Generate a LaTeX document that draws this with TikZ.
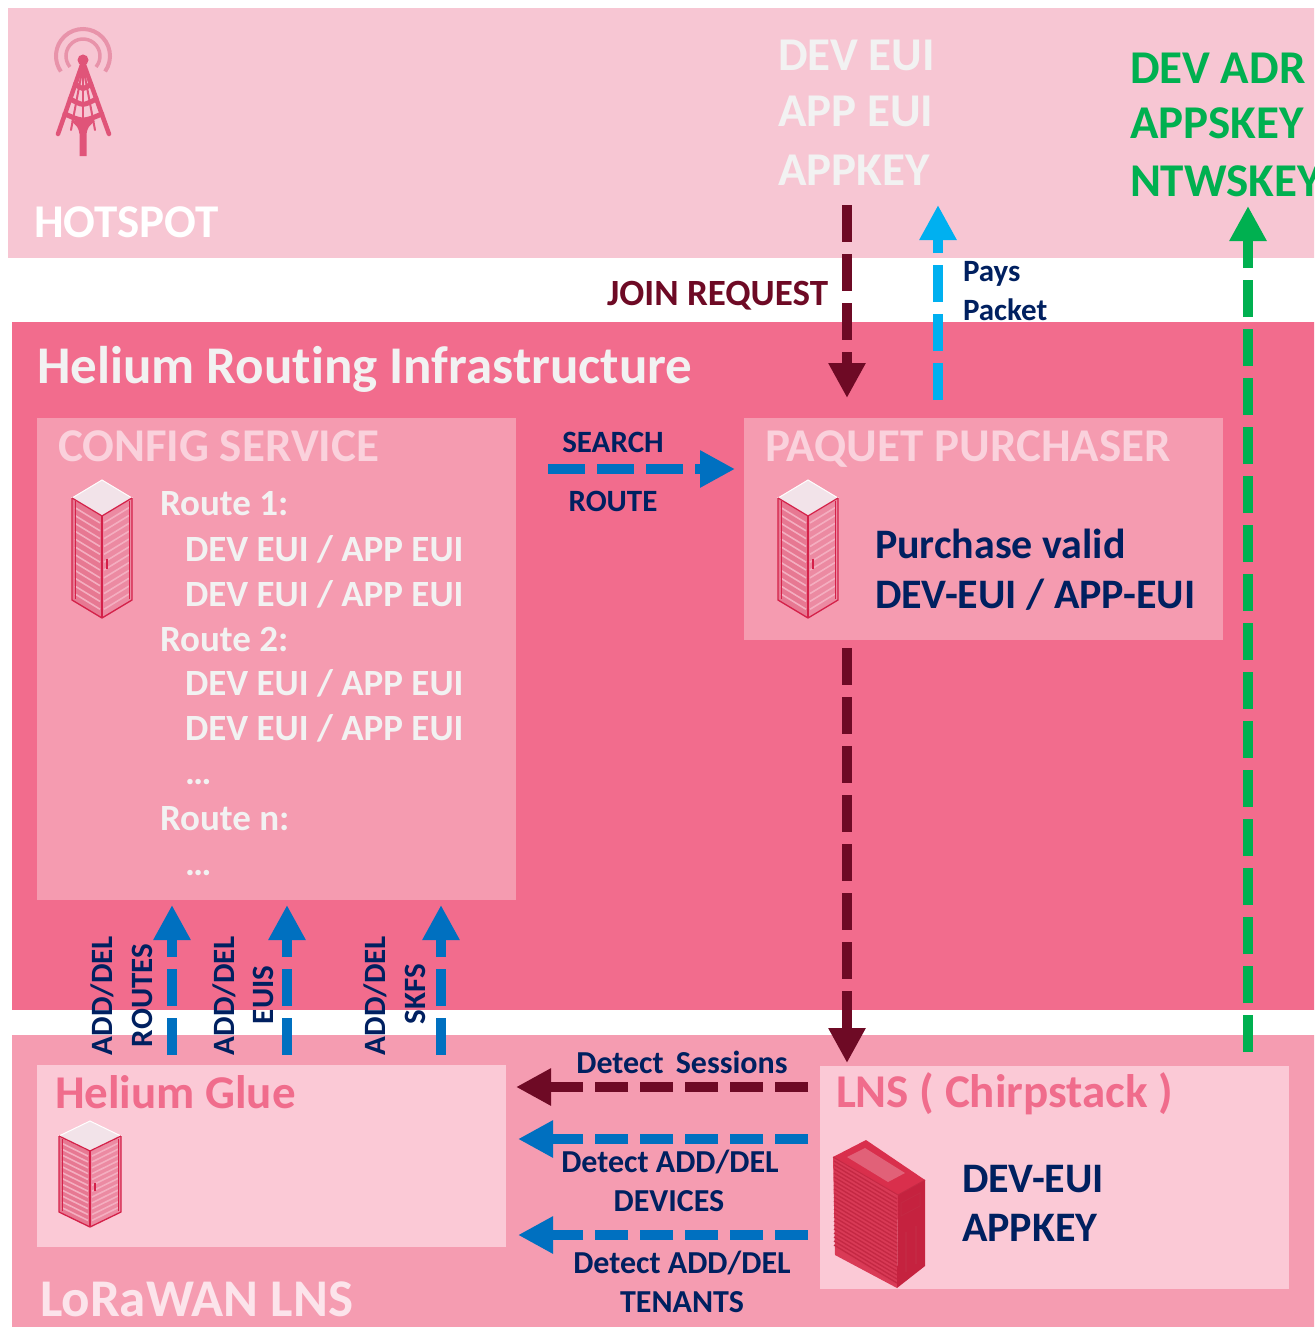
\documentclass[tikz,border=0pt]{standalone}
\usepackage{fontspec}
\setmainfont{Carlito}[Ligatures=NoCommon]
\usetikzlibrary{arrows.meta,calc}

\definecolor{hotbg}{HTML}{F7C6D3}
\definecolor{routebg}{HTML}{F26C8D}
\definecolor{lnsbg}{HTML}{F59CB1}
\definecolor{midbox}{HTML}{F59BB0}
\definecolor{lightbox}{HTML}{FBC9D6}
\definecolor{softwhite}{HTML}{F2F2F2}
\definecolor{titlepink}{HTML}{FAD1DC}
\definecolor{deeppink}{HTML}{F06C8C}
\definecolor{navy}{HTML}{002060}
\definecolor{maroon}{HTML}{6E0A25}
\definecolor{flowblue}{HTML}{0070C0}
\definecolor{skyblue}{HTML}{00B0F0}
\definecolor{keygreen}{HTML}{00B050}
\definecolor{towercol}{HTML}{E05479}
\definecolor{ringcol}{HTML}{E893AA}
\definecolor{rackedge}{HTML}{D42149}
\definecolor{rackleft}{HTML}{E77892}
\definecolor{rackright}{HTML}{EC8AA2}
\definecolor{racktop}{HTML}{F2E3E9}
\definecolor{rackslat}{HTML}{F4AEC0}
\definecolor{srvtop}{HTML}{D92F4C}
\definecolor{srvleft}{HTML}{D93A56}
\definecolor{srvright}{HTML}{C5223F}
\definecolor{srvline}{HTML}{C42843}
\definecolor{lnswhite}{HTML}{FCE4EB}

% isometric rack cabinet: top corner x, y, half width, top dip, height
\newcommand\rackicon[5]{%
\begin{scope}[shift={(#1,#2)}]
  \fill[rackleft] ({-#3},{#4}) -- (0,{2*#4}) -- (0,{2*#4+#5}) -- ({-#3},{#4+#5}) -- cycle;
  \fill[rackright] (0,{2*#4}) -- ({#3},{#4}) -- ({#3},{#4+#5}) -- (0,{2*#4+#5}) -- cycle;
  \foreach \k in {1,...,12}{
    \draw[rackslat,line width=1.6pt] ({-#3+3},{#4+\k*#5/13+0.1*#4}) -- (-2,{2*#4+\k*#5/13-0.05*#4});
    \draw[rackslat,line width=1.6pt] (2,{2*#4+\k*#5/13-0.05*#4}) -- ({#3-3},{#4+\k*#5/13+0.1*#4});
  }
  \fill[racktop,draw=white,line width=1pt] (0,0) -- ({-#3},{#4}) -- (0,{2*#4}) -- ({#3},{#4}) -- cycle;
  \draw[rackedge,line width=1.3pt,line join=round]
    ({-#3},{#4}) -- ({-#3},{#4+#5}) -- (0,{2*#4+#5}) -- ({#3},{#4+#5}) -- ({#3},{#4});
  \draw[rackedge,line width=1.3pt] ({-#3},{#4}) -- (0,{2*#4}) -- ({#3},{#4});
  \draw[rackedge,line width=2.6pt] (0,{2*#4}) -- (0,{2*#4+#5});
  \draw[rackedge,line width=0.8pt] ({-#3+3},{#4+3}) -- ({-#3+3},{#4+#5-1});
  \draw[rackedge,line width=0.8pt] ({#3-3},{#4+3}) -- ({#3-3},{#4+#5-1});
  \draw[rackedge,line width=1.6pt] (5,{2*#4+0.42*#5}) -- (5,{2*#4+0.52*#5});
\end{scope}}

\tikzset{
  band/.style={inner sep=0pt,outer sep=0pt,draw=none,anchor=north west},
  txt/.style={inner sep=0pt,outer sep=0pt,anchor=base west,font=\bfseries\fontsize{#1}{#1}\selectfont},
  flow/.style={line width=10.5pt,dash pattern=on 37pt off 12pt,
    -{Triangle[width=35pt,length=35pt]}},
}

\begin{document}
\begin{tikzpicture}[x=1pt,y=-1pt]
\clip (0,0) rectangle (1314,1327);
\fill[white] (0,0) rectangle (1314,1327);

% ---------- layers ----------
\node[band,fill=hotbg,minimum width=1310pt,minimum height=250pt] (hotspot) at (8,8) {};
\node[band,fill=routebg,minimum width=1306pt,minimum height=688pt] (routing) at (12,322) {};
\node[band,fill=lnsbg,minimum width=1306pt,minimum height=296pt] (lorawan) at (12,1035) {};

% ---------- boxes ----------
\node[band,fill=midbox,minimum width=479pt,minimum height=482pt] (cfg) at (37,418) {};
\node[band,fill=midbox,minimum width=479pt,minimum height=222pt] (pp) at (744,418) {};
\node[band,fill=lightbox,minimum width=469pt,minimum height=182pt] (glue) at (37,1065) {};
\node[band,fill=lightbox,minimum width=469pt,minimum height=223pt] (lns) at (820,1066) {};

% ---------- hotspot tower ----------
\begin{scope}[shift={(83,56)},yscale=-1]
  \draw[ringcol,line width=4pt] (-35:27) arc[start angle=-35,end angle=215,radius=27];
  \draw[ringcol,line width=3.5pt] (-40:17) arc[start angle=-40,end angle=220,radius=17];
\end{scope}
\begin{scope}[towercol,line cap=round,line join=round]
  \draw[line width=4.5pt] (58,134) -- (83,62) -- (109,134);
  \draw[line width=2pt] (71,130) -- (83,66) -- (95,130);
  \draw[line width=2.5pt] (83,62) -- (83,122);
  \draw[line width=5pt] (75.4,84) .. controls (83,90) .. (90.8,84);
  \draw[line width=5pt] (70.2,99) .. controls (83,106) .. (96.2,99);
  \draw[line width=5pt] (65,114) .. controls (83,122) .. (101.8,114);
  \fill (71,121) .. controls (78,127) .. (79.5,134) -- (79.5,156) -- (86.5,156) -- (86.5,134)
        .. controls (88,127) .. (95,121) -- cycle;
  \fill (83,60) circle (5.5);
\end{scope}

% ---------- rack icons ----------
\rackicon{102}{480}{30}{18}{102}
\rackicon{808}{480}{30}{18}{102}
\rackicon{90}{1121}{31}{15}{76}

% ---------- LNS server ----------
\coordinate (sb) at (866,1140);
\coordinate (sl) at (833,1157);
\coordinate (sf) at (898,1195);
\coordinate (sr) at (925,1180);
\coordinate (slb) at (835,1255);
\coordinate (sfb) at (897,1288);
\coordinate (srb) at (925,1266);
\fill[srvleft] (sl) -- (sf) -- (sfb) -- (slb) -- cycle;
\foreach \t in {4,8,...,88}{
  \draw[srvline,line width=1.4pt] ($(sl)+(1,\t)$) -- ($(sf)+(-1,\t)$);
}
\fill[srvright] (sf) -- (sr) -- (srb) -- (sfb) -- cycle;
\fill[srvtop] (sb) -- (sl) -- (sf) -- (sr) -- cycle;
\fill[srvleft!80!white] (865,1148) -- (847,1157) -- (888,1182) -- (905,1173) -- cycle;
\draw[srvline,line width=1pt] (sl) -- (sf) -- (sr);
\draw[srvline,line width=1pt] (901,1203) -- (920,1193) -- (920,1206) -- (901,1216) -- cycle;
\draw[srvline,line width=2pt] (906,1232) -- (906,1272);
\draw[srvline,line width=2pt] (916,1226) -- (916,1264);

% ---------- texts: hotspot ----------
\node[txt=47,white] (t-hot) at (34,237) {HOTSPOT};
\node[txt=47,softwhite] (k-dev) at (778,71) {DEV EUI};
\node[txt=47,softwhite] (k-app) at (778,127) {APP EUI};
\node[txt=47,softwhite] (k-key) at (778,185) {APPKEY};
\node[txt=47,keygreen] (g-adr) at (1130,84) {DEV ADR};
\node[txt=47,keygreen] (g-aps) at (1130,139) {APPSKEY};
\node[txt=47,keygreen] (g-nws) at (1130,196) {NTWSKEY};
\node[txt=37,maroon,anchor=base east] (t-join) at (828,305) {JOIN REQUEST};
\node[txt=31,navy] (t-pays) at (963,281) {Pays};
\node[txt=31,navy] (t-packet) at (963,320) {Packet};

% ---------- texts: routing ----------
\node[txt=53,softwhite] (t-routing) at (37,383) {Helium Routing Infrastructure};
\node[txt=47,titlepink] (t-cfg) at (58,461) {CONFIG SERVICE};
\node[txt=47,titlepink] (t-pp) at (765,461) {PAQUET PURCHASER};
\node[txt=31,navy,anchor=base] (t-search) at (613,452) {SEARCH};
\node[txt=31,navy,anchor=base] (t-route) at (613,511) {ROUTE};
\node[txt=37,softwhite] (r1) at (160,515) {Route 1:};
\node[txt=37,softwhite] (r1a) at (185,561) {DEV EUI / APP EUI};
\node[txt=37,softwhite] (r1b) at (185,606) {DEV EUI / APP EUI};
\node[txt=37,softwhite] (r2) at (160,651) {Route 2:};
\node[txt=37,softwhite] (r2a) at (185,695) {DEV EUI / APP EUI};
\node[txt=37,softwhite] (r2b) at (185,740) {DEV EUI / APP EUI};
\node[txt=37,softwhite] (r2c) at (185,784) {\dots};
\node[txt=37,softwhite] (rn) at (160,830) {Route n:};
\node[txt=37,softwhite] (rnc) at (185,875) {\dots};
\node[txt=42,navy] (t-buy1) at (875,558) {Purchase valid};
\node[txt=42,navy] (t-buy2) at (875,608) {DEV-EUI / APP-EUI};

% rotated labels
\node[txt=31,navy,rotate=90] (v1a) at (112,1055) {ADD/DEL};
\node[txt=31,navy,rotate=90] (v1b) at (152,1047) {ROUTES};
\node[txt=31,navy,rotate=90] (v2a) at (234,1055) {ADD/DEL};
\node[txt=31,navy,rotate=90] (v2b) at (273,1024) {EUIS};
\node[txt=31,navy,rotate=90] (v3a) at (385,1055) {ADD/DEL};
\node[txt=31,navy,rotate=90] (v3b) at (425,1024) {SKFS};

% ---------- texts: LoRaWAN LNS ----------
\node[txt=47,deeppink] (t-glue) at (55,1108) {Helium Glue};
\node[txt=47,deeppink] (t-lns) at (836,1107) {LNS ( Chirpstack )};
\node[txt=32,navy,anchor=base] (t-sess) at (682,1073) {Detect\hspace{0.38em}Sessions};
\node[txt=32,navy,anchor=base] (t-dev1) at (670,1172) {Detect ADD/DEL};
\node[txt=32,navy,anchor=base] (t-dev2) at (669,1211) {DEVICES};
\node[txt=32,navy,anchor=base] (t-ten1) at (682,1273) {Detect ADD/DEL};
\node[txt=32,navy,anchor=base] (t-ten2) at (682,1312) {TENANTS};
\node[txt=42,navy] (t-eui) at (962,1192) {DEV-EUI};
\node[txt=42,navy] (t-akey) at (962,1241) {APPKEY};
\node[txt=53,lnswhite] (t-lorawan) at (40,1316) {LoRaWAN LNS};

% ---------- connector ends ----------
\coordinate (join-s) at (847,205);
\coordinate (join-e) at (847,398);
\coordinate (pay-s) at (938,400);
\coordinate (pay-e) at (938,205);
\coordinate (key-s) at (1248,1052);
\coordinate (key-e) at (1248,206);
\coordinate (buy-s) at (847,648);
\coordinate (buy-e) at (847,1063);
\coordinate (srch-s) at (548,469);
\coordinate (srch-e) at (735,469);
\coordinate (up1-s) at (172,1055);
\coordinate (up1-e) at (172,905);
\coordinate (up2-s) at (287,1055);
\coordinate (up2-e) at (287,905);
\coordinate (up3-s) at (441,1055);
\coordinate (up3-e) at (441,905);
\coordinate (ses-s) at (808,1087);
\coordinate (ses-e) at (516,1087);
\coordinate (dev-s) at (808,1139);
\coordinate (dev-e) at (518,1139);
\coordinate (ten-s) at (808,1235);
\coordinate (ten-e) at (518,1235);

% ---------- connectors ----------
\draw[flow,maroon] (join-s) -- (join-e);
\draw[flow,skyblue] (pay-s) -- (pay-e);
\draw[flow,keygreen] (key-s) -- (key-e);
\draw[flow,maroon] (buy-s) -- (buy-e);
\draw[flow,flowblue] (srch-s) -- (srch-e);
\draw[flow,flowblue] (up1-s) -- (up1-e);
\draw[flow,flowblue] (up2-s) -- (up2-e);
\draw[flow,flowblue] (up3-s) -- (up3-e);
\draw[flow,maroon,dash pattern=on 33pt off 12pt] (ses-s) -- (ses-e);
\draw[flow,flowblue,dash pattern=on 33pt off 12pt] (dev-s) -- (dev-e);
\draw[flow,flowblue,dash pattern=on 33pt off 12pt] (ten-s) -- (ten-e);
\end{tikzpicture}
\end{document}
